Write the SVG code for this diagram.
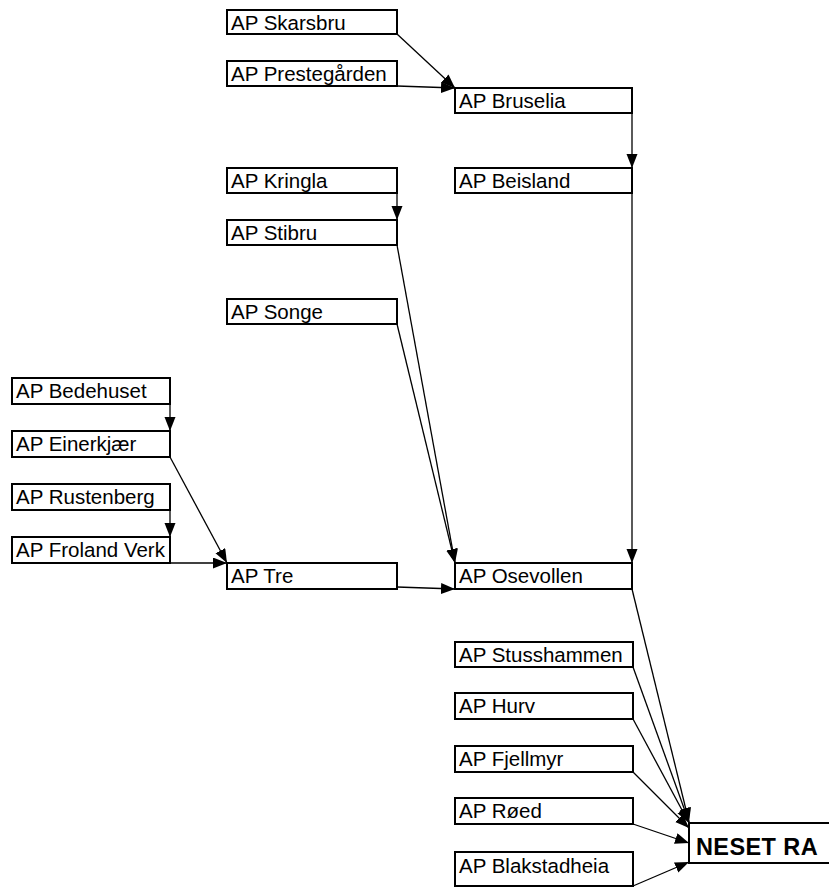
<svg xmlns="http://www.w3.org/2000/svg" width="829" height="887" viewBox="0 0 829 887">
<style>
.box{fill:#fff;stroke:#000;stroke-width:2}
.lbl{font-family:"Liberation Sans",Arial,Helvetica,sans-serif;font-size:20.5px;fill:#000}
.big{font-family:"Liberation Sans",Arial,Helvetica,sans-serif;font-size:23.5px;font-weight:bold;letter-spacing:0.4px;fill:#000}
.edge{stroke:#000;stroke-width:1.3;fill:none;marker-end:url(#arr)}
</style>
<defs>
<marker id="arr" markerUnits="userSpaceOnUse" markerWidth="15" markerHeight="12" refX="14" refY="5.5" orient="auto">
<path d="M0,0 L14,5.5 L0,11 z" fill="#000"/>
</marker>
</defs>
<rect width="829" height="887" fill="#fff"/>
<g id="connectors">
<line class="edge" x1="397" y1="34" x2="455" y2="88"/>
<line class="edge" x1="397" y1="86" x2="455" y2="88"/>
<line class="edge" x1="632" y1="113" x2="632" y2="168"/>
<line class="edge" x1="397" y1="193" x2="397" y2="220"/>
<line class="edge" x1="397" y1="245" x2="455" y2="563"/>
<line class="edge" x1="397" y1="324" x2="455" y2="563"/>
<line class="edge" x1="632" y1="193" x2="632" y2="563"/>
<line class="edge" x1="170" y1="404" x2="170" y2="431"/>
<line class="edge" x1="170" y1="510" x2="170" y2="537"/>
<line class="edge" x1="170" y1="457" x2="227" y2="563"/>
<line class="edge" x1="170" y1="563" x2="227" y2="563"/>
<line class="edge" x1="397" y1="587" x2="455" y2="589"/>
<line class="edge" x1="632" y1="589" x2="689" y2="822"/>
<line class="edge" x1="633" y1="667" x2="689" y2="822"/>
<line class="edge" x1="633" y1="719" x2="689" y2="823"/>
<line class="edge" x1="633" y1="772" x2="689" y2="828"/>
<line class="edge" x1="633" y1="824" x2="689" y2="843"/>
<line class="edge" x1="633" y1="886" x2="689" y2="862"/>
</g>
<g id="n-skarsbru"><rect class="box" x="227" y="10" width="170" height="24"/><text class="lbl" x="231" y="30">AP Skarsbru</text></g>
<g id="n-prestegarden"><rect class="box" x="227" y="61" width="170" height="25"/><text class="lbl" x="231" y="81">AP Prestegården</text></g>
<g id="n-bruselia"><rect class="box" x="455" y="88" width="177" height="25"/><text class="lbl" x="459" y="108">AP Bruselia</text></g>
<g id="n-kringla"><rect class="box" x="227" y="168" width="170" height="25"/><text class="lbl" x="231" y="188">AP Kringla</text></g>
<g id="n-beisland"><rect class="box" x="455" y="168" width="177" height="25"/><text class="lbl" x="459" y="188">AP Beisland</text></g>
<g id="n-stibru"><rect class="box" x="227" y="220" width="170" height="25"/><text class="lbl" x="231" y="240">AP Stibru</text></g>
<g id="n-songe"><rect class="box" x="227" y="299" width="170" height="25"/><text class="lbl" x="231" y="319">AP Songe</text></g>
<g id="n-bedehuset"><rect class="box" x="12" y="378" width="158" height="26"/><text class="lbl" x="16" y="398">AP Bedehuset</text></g>
<g id="n-einerkjaer"><rect class="box" x="12" y="431" width="158" height="26"/><text class="lbl" x="16" y="451">AP Einerkjær</text></g>
<g id="n-rustenberg"><rect class="box" x="12" y="484" width="158" height="26"/><text class="lbl" x="16" y="504">AP Rustenberg</text></g>
<g id="n-froland-verk"><rect class="box" x="12" y="537" width="158" height="26"/><text class="lbl" x="16" y="557">AP Froland Verk</text></g>
<g id="n-tre"><rect class="box" x="227" y="563" width="170" height="26"/><text class="lbl" x="231" y="583">AP Tre</text></g>
<g id="n-osevollen"><rect class="box" x="455" y="563" width="177" height="26"/><text class="lbl" x="459" y="583">AP Osevollen</text></g>
<g id="n-stusshammen"><rect class="box" x="455" y="642" width="178" height="25"/><text class="lbl" x="459" y="662">AP Stusshammen</text></g>
<g id="n-hurv"><rect class="box" x="455" y="693" width="178" height="26"/><text class="lbl" x="459" y="713">AP Hurv</text></g>
<g id="n-fjellmyr"><rect class="box" x="455" y="746" width="178" height="26"/><text class="lbl" x="459" y="766">AP Fjellmyr</text></g>
<g id="n-roed"><rect class="box" x="455" y="798" width="178" height="26"/><text class="lbl" x="459" y="818">AP Røed</text></g>
<g id="n-blakstadheia"><rect class="box" x="455" y="852" width="178" height="34"/><text class="lbl" x="459" y="873">AP Blakstadheia</text></g>
<g id="n-neset-ra"><rect class="box" x="689" y="823" width="150" height="40"/><text class="big" x="696" y="855">NESET RA</text></g>
</svg>
